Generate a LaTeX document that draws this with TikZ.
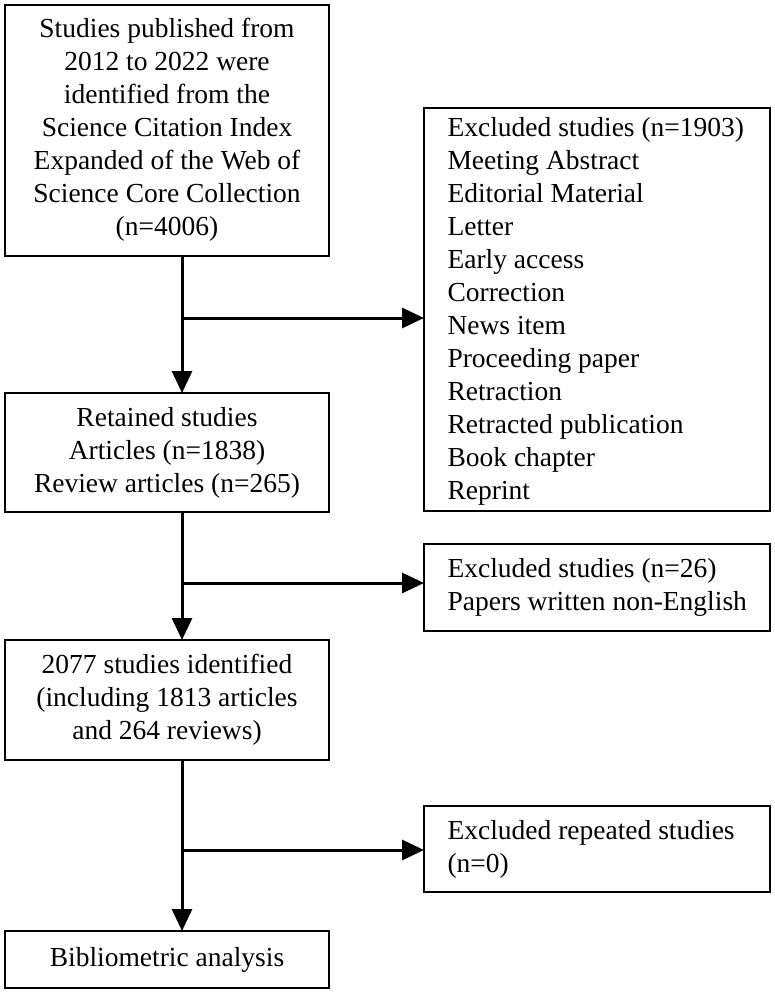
\documentclass[tikz,border=0pt]{standalone}
\usepackage{fontspec}
\setmainfont{Liberation Serif}
\usetikzlibrary{arrows.meta}
\begin{document}
\begin{tikzpicture}[x=1pt,y=-1pt,
  box/.style={draw,line width=2.5pt,inner sep=0pt},
  txt/.style={font=\fontsize{27.5}{33}\selectfont,align=center},
  ltxt/.style={font=\fontsize{27.5}{33}\selectfont,align=left,anchor=west},
  arr/.style={line width=3pt,-{Triangle[length=22pt,width=20pt]}}]
\useasboundingbox (0,0) rectangle (774,992);
\draw[box] (5,5) rectangle (329,256);
\node[txt] (b1) at (167,130) {Studies published from\\2012 to 2022 were\\identified from the\\Science Citation Index\\Expanded of the Web of\\Science Core Collection\\(n=4006)};
\draw[box] (424,108) rectangle (770,511);
\node[ltxt] (b2) at (444,311) {Excluded studies (n=1903)\\Meeting Abstract\\Editorial Material\\Letter\\Early access\\Correction\\News item\\Proceeding paper\\Retraction\\Retracted publication\\Book chapter\\Reprint};
\draw[box] (5,393) rectangle (329,512);
\node[txt] (b3) at (167,453) {Retained studies\\Articles (n=1838)\\Review articles (n=265)};
\draw[box] (424,544) rectangle (770,631);
\node[ltxt] (b4) at (444,587) {Excluded studies (n=26)\\Papers written non-English};
\draw[box] (5,640) rectangle (329,760);
\node[txt] (b5) at (167,700) {2077 studies identified\\(including 1813 articles\\and 264 reviews)};
\draw[box] (424,806) rectangle (770,892);
\node[ltxt] (b6) at (444,849) {Excluded repeated studies\\(n=0)};
\draw[box] (5,931) rectangle (329,988);
\node[txt] (b7) at (167,960) {Bibliometric analysis};
\coordinate (t1) at (182,256); \coordinate (h1) at (182,393);
\coordinate (t2) at (182,512); \coordinate (h2) at (182,640);
\coordinate (t3) at (182,760); \coordinate (h3) at (182,931);
\draw[arr] (t1) -- (h1);
\draw[arr] (t2) -- (h2);
\draw[arr] (t3) -- (h3);
\coordinate (j1) at (182,318); \coordinate (j2) at (182,583); \coordinate (j3) at (182,850);
\draw[arr] (j1) -- (424,318);
\draw[arr] (j2) -- (424,583);
\draw[arr] (j3) -- (424,850);
\end{tikzpicture}
\end{document}
